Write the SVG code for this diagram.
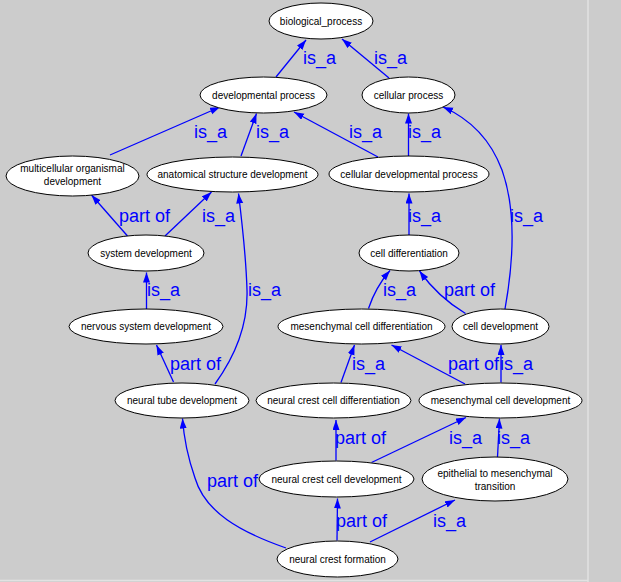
<svg xmlns="http://www.w3.org/2000/svg" width="621" height="582" viewBox="0 0 621 582">
<defs>
<style>
.n ellipse{fill:#fff;stroke:#000;stroke-width:1}
.n text{font-family:"Liberation Sans",Arial,sans-serif;font-size:10px;fill:#000;text-anchor:middle}
.e path{fill:none;stroke:#0000ff;stroke-width:1.3;marker-end:url(#ah)}
.l{font-family:"Liberation Sans",Arial,sans-serif;font-size:18px;fill:#0000ff}
</style>
<marker id="ah" markerUnits="userSpaceOnUse" markerWidth="11" markerHeight="8" refX="10" refY="3.5" orient="auto">
<path d="M0,0 L10,3.5 L0,7 z" fill="#0000ff"/>
</marker>
</defs>
<rect width="621" height="582" fill="#cccccc"/>
<line x1="588" y1="0" x2="588" y2="582" stroke="#e2e2e2" stroke-width="1.5"/>
<line x1="0" y1="580.5" x2="588" y2="580.5" stroke="#e2e2e2" stroke-width="1.5"/>

<g id="edges" class="e">
<path d="M276,77 L306,40"/>
<path d="M389,78 L342,39"/>
<path d="M110,155 L220,107"/>
<path d="M241,156 L256.5,113.5"/>
<path d="M378,157 L294,112"/>
<path d="M408.5,156 L408.5,113.5"/>
<path d="M505,309 C512,270 518,215 502,170 C490,138 468,118 443,107"/>
<path d="M127.5,236 L91.5,195"/>
<path d="M165,236 L211.5,192"/>
<path d="M146.5,309 L146.5,272.5"/>
<path d="M215,384 C236,355 248,322 247,290 C246,255 242,222 238.5,193.5"/>
<path d="M173.5,382 L156.5,345"/>
<path d="M409,235 L409,193.5"/>
<path d="M368.5,308.5 C373,295 380,282 390,270.5"/>
<path d="M465.5,313.5 C448,303 433,290 419.5,271"/>
<path d="M341,382.5 L354.5,345"/>
<path d="M465,384 L391.5,345"/>
<path d="M501,382.5 L501,345"/>
<path d="M336,460.5 L336,420"/>
<path d="M371.5,462.5 L466,417.5"/>
<path d="M497.5,457 L499.5,418.5"/>
<path d="M286,548 C240,532 205,512 195,478 C188,458 184,440 182.5,418.5"/>
<path d="M337,540.5 L337.5,498.5"/>
<path d="M370,542 L455,500"/>
</g>

<g id="labels">
<text class="l" x="303" y="64">is_a</text>
<text class="l" x="374" y="64">is_a</text>
<text class="l" x="194" y="138">is_a</text>
<text class="l" x="256" y="138">is_a</text>
<text class="l" x="349" y="138">is_a</text>
<text class="l" x="408" y="138">is_a</text>
<text class="l" x="119" y="222">part of</text>
<text class="l" x="202" y="222">is_a</text>
<text class="l" x="408" y="222">is_a</text>
<text class="l" x="510" y="222">is_a</text>
<text class="l" x="147" y="296">is_a</text>
<text class="l" x="248" y="296">is_a</text>
<text class="l" x="383" y="296">is_a</text>
<text class="l" x="444" y="296">part of</text>
<text class="l" x="170" y="370">part of</text>
<text class="l" x="352" y="370">is_a</text>
<text class="l" x="448" y="370">part of</text>
<text class="l" x="500" y="370">is_a</text>
<text class="l" x="335" y="444">part of</text>
<text class="l" x="449" y="444">is_a</text>
<text class="l" x="497" y="444">is_a</text>
<text class="l" x="207" y="487">part of</text>
<text class="l" x="336" y="527">part of</text>
<text class="l" x="433" y="527">is_a</text>
</g>

<g id="biological_process" class="n"><ellipse cx="321" cy="21" rx="52" ry="18"/><text x="321" y="24.5">biological_process</text></g>
<g id="developmental_process" class="n"><ellipse cx="263.5" cy="95" rx="63.5" ry="18"/><text x="263.5" y="98.5">developmental process</text></g>
<g id="cellular_process" class="n"><ellipse cx="408.5" cy="95" rx="46.5" ry="18"/><text x="408.5" y="98.5">cellular process</text></g>
<g id="multicellular_organismal_development" class="n"><ellipse cx="72.5" cy="176" rx="66.5" ry="20"/><text x="72.5" y="172">multicellular organismal</text><text x="72.5" y="184.5">development</text></g>
<g id="anatomical_structure_development" class="n"><ellipse cx="232.5" cy="174.5" rx="85.5" ry="17.5"/><text x="232.5" y="178">anatomical structure development</text></g>
<g id="cellular_developmental_process" class="n"><ellipse cx="409" cy="174" rx="80" ry="18"/><text x="409" y="177.5">cellular developmental process</text></g>
<g id="system_development" class="n"><ellipse cx="146" cy="253" rx="58" ry="18"/><text x="146" y="256.5">system development</text></g>
<g id="cell_differentiation" class="n"><ellipse cx="409" cy="253" rx="50" ry="18"/><text x="409" y="256.5">cell differentiation</text></g>
<g id="nervous_system_development" class="n"><ellipse cx="146" cy="326.5" rx="77" ry="17.5"/><text x="146" y="330">nervous system development</text></g>
<g id="mesenchymal_cell_differentiation" class="n"><ellipse cx="361.5" cy="326.5" rx="83.5" ry="17.5"/><text x="361.5" y="330">mesenchymal cell differentiation</text></g>
<g id="cell_development" class="n"><ellipse cx="500.5" cy="326.5" rx="48.5" ry="17.5"/><text x="500.5" y="330">cell development</text></g>
<g id="neural_tube_development" class="n"><ellipse cx="182" cy="400.5" rx="67" ry="17.5"/><text x="182" y="404">neural tube development</text></g>
<g id="neural_crest_cell_differentiation" class="n"><ellipse cx="333.5" cy="400.5" rx="77.5" ry="17.5"/><text x="333.5" y="404">neural crest cell differentiation</text></g>
<g id="mesenchymal_cell_development" class="n"><ellipse cx="500.5" cy="400.5" rx="81.5" ry="17.5"/><text x="500.5" y="404">mesenchymal cell development</text></g>
<g id="neural_crest_cell_development" class="n"><ellipse cx="336.5" cy="479" rx="77.5" ry="18"/><text x="336.5" y="482.5">neural crest cell development</text></g>
<g id="epithelial_to_mesenchymal_transition" class="n"><ellipse cx="495" cy="479" rx="73" ry="22"/><text x="495" y="477">epithelial to mesenchymal</text><text x="495" y="489.5">transition</text></g>
<g id="neural_crest_formation" class="n"><ellipse cx="337.5" cy="559" rx="60.5" ry="18"/><text x="337.5" y="562.5">neural crest formation</text></g>
</svg>
